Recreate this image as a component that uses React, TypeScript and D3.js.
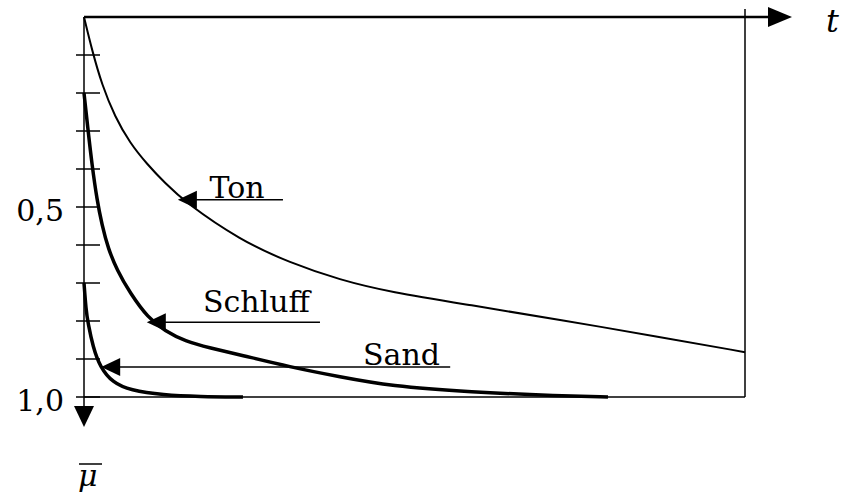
import React from "react";
import * as d3 from "d3";

// Consolidation curves: mean degree of consolidation (mu-bar, downward) vs time t
const tonT = [0, 1.21, 2.72, 4.69, 6.96, 9.53, 12.25, 15.28, 23.6, 31.16, 38.73, 46.29, 58.4, 72.0, 87.14, 100];
const tonMu = [0, 0.087, 0.179, 0.263, 0.332, 0.387, 0.437, 0.487, 0.587, 0.647, 0.692, 0.724, 0.758, 0.797, 0.842, 0.882];

const schluffT = [0, 0.605, 1.21, 1.97, 2.72, 3.63, 4.99, 6.96, 9.68, 12.25, 15.28, 19.06, 23.6, 31.16, 38.73, 46.29, 58.4, 72.0, 79.27];
const schluffMu = [0.2, 0.297, 0.389, 0.482, 0.547, 0.608, 0.666, 0.726, 0.792, 0.826, 0.853, 0.871, 0.889, 0.921, 0.947, 0.971, 0.987, 0.997, 1.0];

const sandT = [0, 0.3, 0.6, 1.36, 2.42, 4.39, 6.96, 11.95, 17.5, 24.05];
const sandMu = [0.7, 0.77, 0.805, 0.868, 0.921, 0.963, 0.982, 0.995, 0.999, 1.0];

const tickValues = [0.1, 0.2, 0.3, 0.4, 0.5, 0.6, 0.7, 0.8, 0.9, 1.0];
const tickLabelValues = [0.5, 1.0];
const tickLabels = ["0,5", "1,0"];

const labelNames = ["Ton", "Schluff", "Sand"];
const labelTipT = [14.2, 9.5, 2.6];
const labelTipMu = [0.481, 0.803, 0.921];
const labelEndT = [30.1, 35.7, 55.4];
const labelTextT = [19.0, 18.0, 42.2];

const W = 841;
const H = 494;
const FONT = "DejaVu Serif";

export default function App() {
  const x = d3.scaleLinear().domain([0, 100]).range([84, 745]);
  const y = d3.scaleLinear().domain([0, 1]).range([17, 397]);

  const line = d3
    .line<[number, number]>()
    .x((d) => x(d[0]))
    .y((d) => y(d[1]))
    .curve(d3.curveBasis);

  const zip = (a: number[], b: number[]) => a.map((v, i) => [v, b[i]] as [number, number]);

  const series = [
    { data: zip(tonT, tonMu), w: 2 },
    { data: zip(schluffT, schluffMu), w: 3.5 },
    { data: zip(sandT, sandMu), w: 3.5 },
  ];

  const x0 = x(0);
  const xEnd = x(100);
  const yTop = y(0);
  const yBot = y(1);

  return (
    <svg width={W} height={H} style={{ position: "absolute", left: 0, top: 0, background: "#fff" }}>
      {/* frame */}
      <line x1={xEnd} x2={xEnd} y1={9} y2={yBot} stroke="#000" strokeWidth={1.5} />
      <line x1={x0} x2={xEnd} y1={yBot} y2={yBot} stroke="#000" strokeWidth={1.5} />
      {/* top t-axis */}
      <line x1={x0} x2={770} y1={yTop} y2={yTop} stroke="#000" strokeWidth={2.5} />
      <path d={`M768,${yTop - 10} L792,${yTop} L768,${yTop + 10} Z`} fill="#000" />
      <text x={826} y={32} fontFamily={FONT} fontStyle="italic" fontSize={32}>t</text>
      {/* left mu-axis */}
      <line x1={x0} x2={x0} y1={yTop} y2={408} stroke="#000" strokeWidth={1.5} />
      <path d={`M${x0 - 10},406 L${x0},427 L${x0 + 10},406 Z`} fill="#000" />
      {tickValues.map((v) => (
        <line key={v} x1={76} x2={100} y1={y(v)} y2={y(v)} stroke="#000" strokeWidth={1.5} />
      ))}
      {tickLabelValues.map((v, i) => (
        <text key={v} x={64} y={y(v) + 14} textAnchor="end" fontFamily={FONT} fontSize={30}>
          {tickLabels[i]}
        </text>
      ))}
      <text x={78} y={486} fontFamily={FONT} fontStyle="italic" fontSize={30}>μ</text>
      <line x1={79} x2={102} y1={464} y2={464} stroke="#000" strokeWidth={1.5} />
      {/* curves */}
      {series.map((s, i) => (
        <path key={i} d={line(s.data) || ""} fill="none" stroke="#000" strokeWidth={s.w} />
      ))}
      {/* labels with arrows */}
      {labelNames.map((name, i) => {
        const tx = x(labelTipT[i]);
        const ty = y(labelTipMu[i]);
        const ex = x(labelEndT[i]);
        const textY = i === 1 ? ty - 10 : ty - 2;
        return (
          <g key={name}>
            <line x1={tx + 10} x2={ex} y1={ty} y2={ty} stroke="#000" strokeWidth={1.5} />
            <path d={`M${tx},${ty} L${tx + 19},${ty - 9} L${tx + 19},${ty + 9} Z`} fill="#000" />
            <text x={x(labelTextT[i])} y={textY} fontFamily={FONT} fontSize={30}>
              {name}
            </text>
          </g>
        );
      })}
    </svg>
  );
}
